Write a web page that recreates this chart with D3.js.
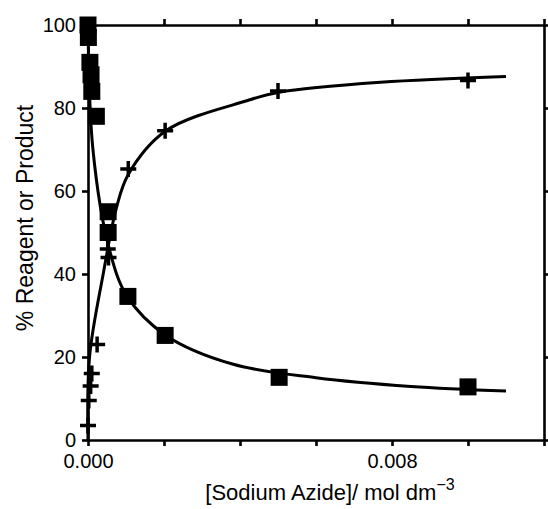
<!DOCTYPE html>
<html>
<head>
<meta charset="utf-8">
<script src="https://cdn.jsdelivr.net/npm/d3@7"></script>
<style>
  body { margin: 0; background: #fff; }
  text { font-family: "Liberation Sans", Arial, sans-serif; fill: #000; }
</style>
</head>
<body>
<div id="chart"></div>
<script>
// measured points: reagent (squares) and product (crosses)
const reagentX = [0, 0.00001, 0.00005, 0.00008, 0.0001, 0.00022, 0.00053, 0.00053, 0.00105, 0.00203, 0.00503, 0.01];
const reagentY = [100, 97, 91, 88, 84, 78, 55, 50, 34.6, 25.2, 15.1, 12.8];
const productX = [0, 0.00002, 0.00007, 0.0001, 0.00024, 0.00052, 0.00054, 0.00106, 0.00203, 0.005, 0.01];
const productY = [3.5, 9.5, 13, 16, 23, 46, 44, 65.3, 74.5, 84.1, 86.6];

// fitted curves
const reagentFitX = [0, 0.00013, 0.00055, 0.00103, 0.00205, 0.0038, 0.006, 0.0085, 0.011];
const reagentFitY = [100, 70, 46.4, 34.6, 25.2, 18.3, 15, 12.9, 11.8];
const productFitX = [0, 0.00004, 0.0004, 0.00075, 0.00106, 0.00205, 0.0042, 0.00503, 0.0077, 0.011];
const productFitY = [0, 20, 40, 56, 64, 74.5, 81.8, 83.8, 86.2, 87.6];

const xTicks = [0, 0.002, 0.004, 0.006, 0.008, 0.010, 0.012];
const xLabelled = [0, 0.008];
const yTicks = [0, 20, 40, 60, 80, 100];

const W = 548, H = 509;
const svg = d3.select("#chart").append("svg").attr("width", W).attr("height", H);

const x = d3.scaleLinear().domain([0, 0.012]).range([88, 544]);
const y = d3.scaleLinear().domain([0, 100]).range([440, 25]);

const zip = (xs, ys) => xs.map((v, i) => [v, ys[i]]);

const axisStyle = g => {
    g.select(".domain").attr("stroke-width", 2.6);
    g.selectAll(".tick line").attr("stroke-width", 2.6);
    g.selectAll(".tick text").attr("fill", "#000").style("font-size", "20px")
        .style("font-family", "Liberation Sans, Arial, sans-serif");
};

svg.append("g").attr("transform", `translate(0,${y(0)})`)
    .call(d3.axisBottom(x).tickValues(xTicks).tickSize(6).tickSizeOuter(0).tickPadding(8)
        .tickFormat(d => xLabelled.some(v => Math.abs(v - d) < 1e-9) ? d3.format(".3f")(d) : ""))
    .call(axisStyle);

svg.append("g").attr("transform", `translate(0,${y(100)})`)
    .call(d3.axisTop(x).tickValues(xTicks).tickSize(6).tickSizeOuter(0).tickFormat(""))
    .call(axisStyle);

svg.append("g").attr("transform", `translate(${x(0)},0)`)
    .call(d3.axisLeft(y).tickValues(yTicks).tickSize(6).tickSizeOuter(0).tickPadding(6))
    .call(axisStyle);

svg.append("g").attr("transform", `translate(${x(0.012)},0)`)
    .call(d3.axisRight(y).tickValues(yTicks).tickSize(6).tickSizeOuter(0).tickFormat(""))
    .call(axisStyle);

// fitted lines
const line = d3.line().x(d => x(d[0])).y(d => y(d[1])).curve(d3.curveCatmullRom.alpha(0.5));
svg.append("path").datum(zip(reagentFitX, reagentFitY))
    .attr("fill", "none").attr("stroke", "#000").attr("stroke-width", 3).attr("d", line);
svg.append("path").datum(zip(productFitX, productFitY))
    .attr("fill", "none").attr("stroke", "#000").attr("stroke-width", 3).attr("d", line);

// reagent squares
svg.append("g").selectAll("rect")
    .data(zip(reagentX, reagentY))
    .join("rect")
    .attr("x", d => x(d[0]) - 8.5)
    .attr("y", d => y(d[1]) - 8.5)
    .attr("width", 17).attr("height", 17)
    .attr("fill", "#000");

// product crosses
svg.append("g").selectAll("path")
    .data(zip(productX, productY))
    .join("path")
    .attr("transform", d => `translate(${x(d[0])},${y(d[1])})`)
    .attr("d", "M-8,0H8M0,-8V8")
    .attr("stroke", "#000").attr("stroke-width", 3.5);

// axis titles
svg.append("text")
    .attr("x", 330).attr("y", 500)
    .attr("text-anchor", "middle")
    .attr("fill", "#000")
    .style("font-size", "22px")
    .text("[Sodium Azide]/ mol dm")
    .append("tspan").attr("dy", -10).style("font-size", "16px").text("\u22123");

svg.append("text")
    .attr("transform", "translate(33,218) rotate(-90)")
    .attr("text-anchor", "middle")
    .attr("fill", "#000")
    .style("font-size", "23px")
    .text("% Reagent or Product");
</script>
</body>
</html>
